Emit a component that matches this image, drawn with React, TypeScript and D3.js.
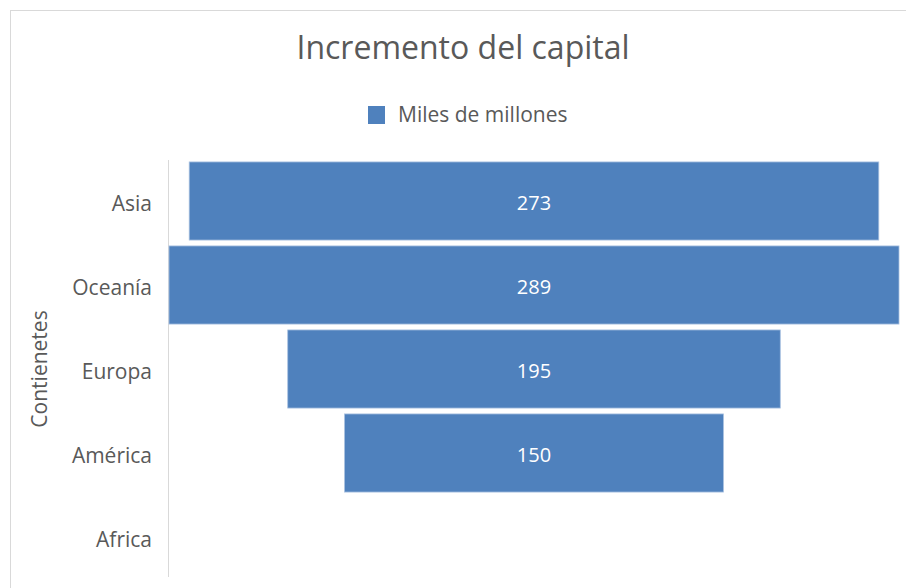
import React from "react";
import * as d3 from "d3";

const categories = ["Asia", "Oceanía", "Europa", "América", "Africa"];
const values: (number | null)[] = [273, 289, 195, 150, null];
const seriesName = "Miles de millones";
const title = "Incremento del capital";
const axisTitle = "Contienetes";

const W = 906;
const H = 588;
const FONT = "'Open Sans', 'Noto Sans', sans-serif";
const TXT = "#595959";
const BLUE = "#4F81BD";

export default function App() {
  const plotLeft = 169;
  const plotRight = 899;
  const center = (plotLeft + plotRight) / 2;
  const maxV = d3.max(values.map((v) => v ?? 0)) as number;
  const w = d3.scaleLinear().domain([0, maxV]).range([0, plotRight - plotLeft]);
  const y = d3
    .scaleBand<string>()
    .domain(categories)
    .range([159, 579])
    .paddingInner(0.07)
    .paddingOuter(0.035);

  return (
    <svg
      width={W}
      height={H}
      style={{ position: "absolute", left: 0, top: 0, background: "#fff" }}
      fontFamily={FONT}
    >
      <rect x={10.5} y={10.5} width={W} height={H} fill="#fff" stroke="#d9d9d9" />
      <text x={463} y={59} textAnchor="middle" fontSize={32} fill={TXT}>
        {title}
      </text>
      <rect x={368} y={106} width={17} height={18} fill={BLUE} />
      <text x={398} y={122} fontSize={21} fill={TXT}>
        {seriesName}
      </text>
      <line x1={168.5} x2={168.5} y1={160} y2={577} stroke="#d9d9d9" strokeWidth={1} />
      {categories.map((c, i) => {
        const v = values[i];
        const by = y(c)!;
        const bh = y.bandwidth();
        return (
          <g key={c}>
            <text
              x={152}
              y={by + bh / 2 + 2}
              textAnchor="end"
              dominantBaseline="central"
              fontSize={21}
              fill={TXT}
            >
              {c}
            </text>
            {v != null && (
              <>
                <rect
                  x={center - w(v) / 2}
                  y={by}
                  width={w(v)}
                  height={bh}
                  fill={BLUE}
                  stroke="#a9c1e0"
                  strokeWidth={0.8}
                />
                <text
                  x={center}
                  y={by + bh / 2 + 1}
                  textAnchor="middle"
                  dominantBaseline="central"
                  fontSize={20}
                  fill="#ffffff"
                >
                  {v}
                </text>
              </>
            )}
          </g>
        );
      })}
      <text
        transform={`translate(39,369) rotate(-90)`}
        textAnchor="middle"
        dominantBaseline="central"
        fontSize={21}
        fill={TXT}
      >
        {axisTitle}
      </text>
    </svg>
  );
}
